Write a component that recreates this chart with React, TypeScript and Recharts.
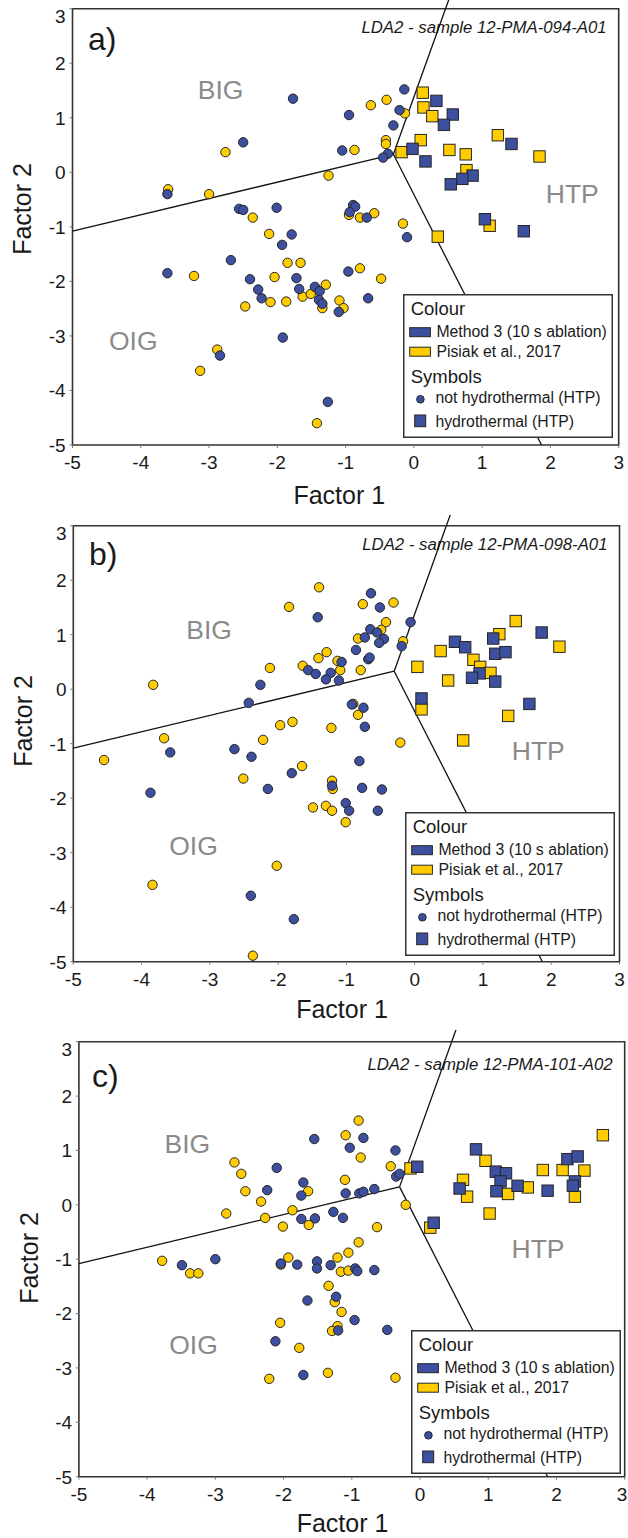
import React from 'react';
import {
  ScatterChart,
  Scatter,
  XAxis,
  YAxis,
  ReferenceLine,
  ReferenceArea,
  ReferenceDot,
  Legend,
} from 'recharts';

const FONT = '"Liberation Sans", Arial, Helvetica, sans-serif';
const BLUE = '#3d4f9f';
const YELLOW = '#ffcc00';
const EDGE = '#262626';
const REGION_GREY = '#8a8a8a';
const TEXT = '#1a1a1a';

// ---------- axis ----------
const AXIS_TICKS = [-5, -4, -3, -2, -1, 0, 1, 2, 3];

// ---------- legend ----------
const COLOUR_ITEMS = [
  { name: 'Method 3 (10 s ablation)', color: BLUE },
  { name: 'Pisiak et al., 2017', color: YELLOW },
];
const SYMBOL_ITEMS = ['not hydrothermal (HTP)', 'hydrothermal (HTP)'];

// ---------- titles ----------
const PANEL_LETTERS = ['a)', 'b)', 'c)'];
const PANEL_TITLES = [
  'LDA2 - sample 12-PMA-094-A01',
  'LDA2 - sample 12-PMA-098-A01',
  'LDA2 - sample 12-PMA-101-A02',
];

// ---------- LDA field boundaries (data units) ----------
const BOUNDARY_VERTEX = { x: -0.3, y: 0.33 };
const BOUNDARY_LEFT_END = { x: -5, y: -1.08 };
const BOUNDARY_UPPER_END = { x: 0.55, y: 3.3 };
const BOUNDARY_LOWER_END = { x: 1.87, y: -5 };

// ---------- region labels (data units, text baseline) ----------
const REGIONS_A = [
  { text: 'BIG', x: -2.83, y: 1.34 },
  { text: 'HTP', x: 2.32, y: -0.57 },
  { text: 'OIG', x: -4.11, y: -3.26 },
];
const REGIONS_B = [
  { text: 'BIG', x: -3.01, y: 0.93 },
  { text: 'HTP', x: 1.81, y: -1.29 },
  { text: 'OIG', x: -3.24, y: -3.04 },
];
const REGIONS_C = [
  { text: 'BIG', x: -3.41, y: 0.95 },
  { text: 'HTP', x: 1.73, y: -0.98 },
  { text: 'OIG', x: -3.32, y: -2.74 },
];

// ---------- panel a data [Factor 1, Factor 2] ----------
const A_METHOD_CIRCLES = [
  [-0.14, 1.52], [-1.77, 1.35], [-0.21, 1.14], [-0.95, 1.05], [-0.3, 0.86], [-2.5, 0.55],
  [-1.05, 0.4], [-0.38, 0.34], [-0.45, 0.27], [-3.61, -0.4], [-2.56, -0.67], [-2.5, -0.69],
  [-2.01, -0.65], [-0.89, -0.6], [-0.86, -0.63], [-0.94, -0.73], [-0.69, -0.83], [-0.1, -1.19],
  [-1.79, -1.14], [-1.93, -1.33], [-2.68, -1.61], [-3.61, -1.85], [-2.4, -1.96], [-1.72, -1.94],
  [-2.28, -2.15], [-2.23, -2.31], [-1.68, -2.14], [-1.45, -2.1], [-1.38, -2.18], [-1.39, -2.34],
  [-1.34, -2.41], [-1.1, -2.56], [-0.96, -1.82], [-0.67, -2.31], [-1.92, -3.03], [-2.84, -3.36],
  [-1.26, -4.21],
];
const A_PISIAK_CIRCLES = [
  [-0.63, 1.23], [-0.4, 1.33], [-0.13, 1.08], [-2.76, 0.37], [-0.87, 0.41], [-0.41, 0.59],
  [-0.41, 0.52], [-3.6, -0.31], [-3.0, -0.4], [-1.25, -0.06], [-2.36, -0.83], [-0.95, -0.78],
  [-0.79, -0.83], [-0.58, -0.75], [-0.16, -0.94], [-2.12, -1.13], [-3.22, -1.9], [-1.85, -1.66],
  [-1.66, -1.66], [-2.04, -1.92], [-2.47, -2.46], [-2.1, -2.38], [-1.87, -2.37], [-1.63, -2.28],
  [-1.51, -2.23], [-1.29, -2.06], [-1.34, -2.49], [-1.09, -2.35], [-1.03, -2.49], [-0.79, -1.76],
  [-0.48, -1.95], [-2.88, -3.25], [-3.13, -3.64], [-1.42, -4.6],
];
const A_METHOD_SQUARES = [
  [0.33, 1.31], [0.57, 1.06], [0.44, 0.87], [1.43, 0.52], [-0.02, 0.43], [0.17, 0.2],
  [0.86, -0.06], [0.71, -0.12], [0.54, -0.22], [1.04, -0.86], [1.61, -1.08],
];
const A_PISIAK_SQUARES = [
  [0.13, 1.46], [0.14, 1.19], [0.27, 1.03], [1.23, 0.68], [1.84, 0.29], [0.1, 0.59],
  [-0.18, 0.37], [0.52, 0.41], [0.76, 0.33], [0.77, 0.04], [1.11, -0.98], [0.35, -1.18],
];

// ---------- panel b data ----------
const B_METHOD_CIRCLES = [
  [-0.64, 1.76], [-0.51, 1.5], [-1.42, 1.32], [-0.06, 1.23], [-0.65, 1.1], [-0.55, 1.04],
  [-0.73, 0.95], [-0.45, 0.92], [-0.52, 0.85], [-0.19, 0.79], [-0.86, 0.72], [-0.68, 0.55],
  [-0.66, 0.58], [-1.07, 0.5], [-1.23, 0.3], [-1.3, 0.18], [-1.11, 0.16], [-1.56, 0.35],
  [-1.45, 0.28], [-2.26, 0.08], [-2.43, -0.25], [-0.92, -0.28], [-0.75, -0.34], [-0.73, -0.69],
  [-3.58, -1.16], [-2.64, -1.1], [-2.39, -1.24], [-0.81, -1.32], [-1.8, -1.54], [-2.15, -1.83],
  [-1.21, -1.77], [-0.77, -1.81], [-0.48, -1.84], [-3.87, -1.9], [-1.01, -2.09], [-0.96, -2.23],
  [-0.54, -2.23], [-2.4, -3.79], [-1.77, -4.22],
];
const B_PISIAK_CIRCLES = [
  [-1.4, 1.87], [-1.84, 1.51], [-0.76, 1.56], [-0.31, 1.59], [-0.42, 1.23], [-0.49, 1.09],
  [-0.83, 0.93], [-0.17, 0.88], [-1.29, 0.68], [-1.41, 0.57], [-1.13, 0.52], [-1.09, 0.35],
  [-0.79, 0.35], [-1.64, 0.43], [-2.12, 0.39], [-3.83, 0.08], [-0.9, -0.27], [-0.83, -0.47],
  [-1.79, -0.6], [-1.97, -0.66], [-1.22, -0.71], [-3.67, -0.9], [-2.22, -0.93], [-0.21, -0.98],
  [-4.55, -1.3], [-1.65, -1.41], [-2.51, -1.64], [-1.21, -1.68], [-1.2, -1.83], [-1.49, -2.17],
  [-1.3, -2.14], [-1.21, -2.23], [-1.01, -2.44], [-2.02, -3.24], [-3.84, -3.59], [-2.37, -4.89],
];
const B_METHOD_SQUARES = [
  [1.15, 0.93], [1.86, 1.04], [0.59, 0.87], [0.74, 0.77], [1.18, 0.65], [1.33, 0.68],
  [0.95, 0.29], [0.84, 0.21], [1.18, 0.14], [0.1, -0.17], [1.68, -0.27],
];
const B_PISIAK_SQUARES = [
  [1.48, 1.25], [1.24, 1.01], [2.12, 0.78], [0.38, 0.7], [0.86, 0.54], [0.96, 0.41],
  [0.04, 0.41], [1.11, 0.3], [0.49, 0.16], [0.1, -0.37], [1.37, -0.49], [0.71, -0.94],
];

// ---------- panel c data ----------
const C_METHOD_CIRCLES = [
  [-0.83, 1.23], [-1.55, 1.21], [-1.03, 1.05], [-0.36, 1.0], [-0.35, 0.52], [-0.3, 0.57],
  [-2.1, 0.68], [-2.24, 0.27], [-1.71, 0.41], [-1.74, 0.17], [-1.09, 0.21], [-0.89, 0.21],
  [-0.83, 0.24], [-0.67, 0.29], [-1.74, -0.26], [-1.54, -0.25], [-1.27, -0.13], [-1.13, -0.24],
  [-3.49, -1.11], [-3.0, -1.0], [-2.04, -1.08], [-1.8, -1.1], [-1.51, -1.04], [-1.51, -1.17],
  [-1.31, -1.11], [-0.95, -1.17], [-0.92, -1.22], [-0.67, -1.2], [-1.23, -1.69], [-1.65, -1.76],
  [-0.96, -2.12], [-1.2, -2.31], [-0.48, -2.3], [-2.12, -2.51], [-1.71, -3.13],
];
const C_PISIAK_CIRCLES = [
  [-0.9, 1.55], [-1.09, 1.28], [-0.87, 0.87], [-0.43, 0.71], [-2.72, 0.78], [-2.62, 0.57],
  [-2.56, 0.25], [-1.64, 0.25], [-1.1, 0.46], [-2.33, 0.06], [-2.84, -0.16], [-2.27, -0.24],
  [-1.87, -0.1], [-2.01, -0.4], [-1.63, -0.37], [-0.63, -0.41], [-0.21, 0.0], [-0.9, -0.69],
  [-3.78, -1.03], [-3.37, -1.26], [-3.25, -1.26], [-1.93, -0.97], [-2.04, -1.1], [-1.21, -0.97],
  [-1.05, -0.88], [-1.16, -1.23], [-1.05, -1.21], [-1.34, -1.49], [-1.25, -1.79], [-1.15, -1.97],
  [-2.05, -2.17], [-1.21, -2.23], [-1.29, -2.32], [-1.77, -2.63], [-2.21, -3.2], [-1.35, -3.09],
  [-0.36, -3.18],
];
const C_METHOD_SQUARES = [
  [0.82, 1.02], [1.11, 0.61], [1.26, 0.58], [1.18, 0.43], [1.43, 0.35], [1.12, 0.25],
  [0.58, 0.3], [1.87, 0.26], [2.16, 0.84], [2.31, 0.89], [2.27, 0.43], [2.24, 0.35],
  [-0.04, 0.7], [0.2, -0.33],
];
const C_PISIAK_SQUARES = [
  [2.68, 1.28], [0.96, 0.81], [1.58, 0.32], [1.29, 0.2], [0.63, 0.46], [0.69, 0.15],
  [1.02, -0.16], [1.8, 0.64], [2.09, 0.64], [2.41, 0.63], [2.27, 0.15], [-0.14, 0.67],
  [0.15, -0.42],
];

type Pt = { x: number; y: number };
const toPts = (a: number[][]): Pt[] => a.map(([x, y]) => ({ x, y }));

const PANEL_DATA = [
  { mc: A_METHOD_CIRCLES, pc: A_PISIAK_CIRCLES, ms: A_METHOD_SQUARES, ps: A_PISIAK_SQUARES, regions: REGIONS_A },
  { mc: B_METHOD_CIRCLES, pc: B_PISIAK_CIRCLES, ms: B_METHOD_SQUARES, ps: B_PISIAK_SQUARES, regions: REGIONS_B },
  { mc: C_METHOD_CIRCLES, pc: C_PISIAK_CIRCLES, ms: C_METHOD_SQUARES, ps: C_PISIAK_SQUARES, regions: REGIONS_C },
];

// ---------- layout (pixels) ----------
const PAGE_W = 628;
const LAYOUT = [
  {
    top: 0, height: 515, margin: { top: 8.7, right: 9.3, bottom: 40, left: 0 }, yAxisWidth: 72.5,
    legend: { left: 403.3, top: 294 }, letter: { x: 88, y: 49.5 }, title: { x: 606.7, y: 33 },
    xTitle: { x: 339.3, y: 504 }, yTitle: { x: 31, y: 209 },
  },
  {
    top: 515, height: 515, margin: { top: 10.7, right: 8.5, bottom: 38.3, left: 0 }, yAxisWidth: 73.3,
    legend: { left: 405.3, top: 296.7 }, letter: { x: 89, y: 50 }, title: { x: 607.5, y: 35 },
    xTitle: { x: 342, y: 503 }, yTitle: { x: 32, y: 206 },
  },
  {
    top: 1030, height: 508, margin: { top: 11.7, right: 3.3, bottom: 31.3, left: 0 }, yAxisWidth: 78.9,
    legend: { left: 410.5, top: 300 }, letter: { x: 92, y: 57 }, title: { x: 612.7, y: 40 },
    xTitle: { x: 342.5, y: 501.5 }, yTitle: { x: 37.5, y: 228 },
  },
];

const circleShape = (fill: string) => (p: any) => (
  <circle cx={p.cx} cy={p.cy} r={4.7} fill={fill} stroke={EDGE} strokeWidth={1} />
);
const squareShape = (fill: string) => (p: any) => (
  <rect x={p.cx - 5.7} y={p.cy - 5.7} width={11.4} height={11.4} fill={fill} stroke={EDGE} strokeWidth={1} />
);

const XTick = (p: any) => (
  <text
    x={Math.min(p.x, PAGE_W - 6)}
    y={p.y + 19}
    textAnchor="middle"
    fontSize={19}
    fill={TEXT}
    fontFamily={FONT}
  >
    {p.payload.value}
  </text>
);
const YTick = (p: any) => (
  <text
    x={p.x}
    y={p.payload.value === 3 ? p.y + 14.3 : p.y + 6.8}
    textAnchor="end"
    fontSize={19}
    fill={TEXT}
    fontFamily={FONT}
  >
    {p.payload.value}
  </text>
);

const LegendBox = () => (
  <svg width={210} height={144} style={{ display: 'block' }} fontFamily={FONT}>
    <rect x={0.75} y={0.75} width={208.5} height={142.5} fill="#fff" stroke="#333" strokeWidth={1.5} />
    <text x={7.7} y={21} fontSize={18.5} fill={TEXT}>Colour</text>
    {COLOUR_ITEMS.map((c, i) => (
      <g key={c.name}>
        <rect x={6.7} y={33.7 + i * 19.5} width={20.7} height={9} fill={c.color} stroke={EDGE} strokeWidth={1} />
        <text x={33.4} y={42.7 + i * 20} fontSize={15.8} fill={TEXT}>{c.name}</text>
      </g>
    ))}
    <text x={7.7} y={88.7} fontSize={18.5} fill={TEXT}>Symbols</text>
    <circle cx={17.4} cy={105.3} r={3.8} fill={BLUE} stroke={EDGE} strokeWidth={1} />
    <text x={32.4} y={108.7} fontSize={15.8} fill={TEXT}>{SYMBOL_ITEMS[0]}</text>
    <rect x={11.7} y={121} width={11} height={11.7} fill={BLUE} stroke={EDGE} strokeWidth={1} />
    <text x={32.4} y={132.7} fontSize={15.8} fill={TEXT}>{SYMBOL_ITEMS[1]}</text>
  </svg>
);

function Panel({ idx }: { idx: number }) {
  const cfg = LAYOUT[idx];
  const d = PANEL_DATA[idx];
  return (
    <div style={{ position: 'absolute', left: 0, top: cfg.top, width: PAGE_W, height: cfg.height }}>
      <ScatterChart width={PAGE_W} height={cfg.height} margin={cfg.margin}>
        <XAxis
          type="number"
          dataKey="x"
          domain={[-5, 3]}
          ticks={AXIS_TICKS}
          interval={0}
          allowDataOverflow
          height={30}
          tickSize={3}
          tickMargin={2}
          axisLine={false}
          tickLine={{ stroke: '#777' }}
          tick={(p: any) => <XTick {...p} />}
        />
        <YAxis
          type="number"
          dataKey="y"
          domain={[-5, 3]}
          ticks={AXIS_TICKS}
          interval={0}
          allowDataOverflow
          width={cfg.yAxisWidth}
          tickSize={3}
          tickMargin={3.8}
          axisLine={false}
          tickLine={{ stroke: '#777' }}
          tick={(p: any) => <YTick {...p} />}
        />
        <ReferenceArea
          x1={-5}
          x2={3}
          y1={-5}
          y2={3}
          fill="none"
          fillOpacity={0}
          stroke="#333"
          strokeWidth={1.6}
          ifOverflow="visible"
        />
        <ReferenceLine segment={[BOUNDARY_VERTEX, BOUNDARY_LEFT_END]} stroke="#111" strokeWidth={1.3} ifOverflow="hidden" />
        <ReferenceLine segment={[BOUNDARY_VERTEX, BOUNDARY_UPPER_END]} stroke="#111" strokeWidth={1.3} ifOverflow="visible" />
        <ReferenceLine segment={[BOUNDARY_VERTEX, BOUNDARY_LOWER_END]} stroke="#111" strokeWidth={1.3} ifOverflow="hidden" />
        {d.regions.map((r) => (
          <ReferenceDot
            key={r.text}
            x={r.x}
            y={r.y}
            r={0}
            ifOverflow="visible"
            shape={(p: any) => (
              <text x={p.cx} y={p.cy} textAnchor="middle" fontSize={26.5} fill={REGION_GREY} fontFamily={FONT}>
                {r.text}
              </text>
            )}
          />
        ))}
        <Scatter name="Pisiak circles" data={toPts(d.pc)} shape={circleShape(YELLOW)} isAnimationActive={false} />
        <Scatter name="Method circles" data={toPts(d.mc)} shape={circleShape(BLUE)} isAnimationActive={false} />
        <Scatter name="Pisiak squares" data={toPts(d.ps)} shape={squareShape(YELLOW)} isAnimationActive={false} />
        <Scatter name="Method squares" data={toPts(d.ms)} shape={squareShape(BLUE)} isAnimationActive={false} />
        <Legend
          layout="horizontal"
          verticalAlign="middle"
          align="center"
          content={() => <LegendBox />}
          wrapperStyle={{ left: cfg.legend.left, top: cfg.legend.top, width: 210, height: 144, lineHeight: 0 }}
        />
        <g fontFamily={FONT} fill={TEXT}>
          <text x={cfg.letter.x} y={cfg.letter.y} fontSize={32}>{PANEL_LETTERS[idx]}</text>
          <text x={cfg.title.x} y={cfg.title.y} fontSize={16.8} fontStyle="italic" textAnchor="end">
            {PANEL_TITLES[idx]}
          </text>
          <text x={cfg.xTitle.x} y={cfg.xTitle.y} fontSize={25} textAnchor="middle">Factor 1</text>
          <text
            x={cfg.yTitle.x}
            y={cfg.yTitle.y}
            fontSize={25}
            textAnchor="middle"
            transform={`rotate(-90 ${cfg.yTitle.x} ${cfg.yTitle.y})`}
          >
            Factor 2
          </text>
        </g>
      </ScatterChart>
    </div>
  );
}

export default function App() {
  return (
    <div style={{ position: 'absolute', left: 0, top: 0, width: PAGE_W, height: 1538, background: '#fff', fontFamily: FONT }}>
      <Panel idx={0} />
      <Panel idx={1} />
      <Panel idx={2} />
    </div>
  );
}
